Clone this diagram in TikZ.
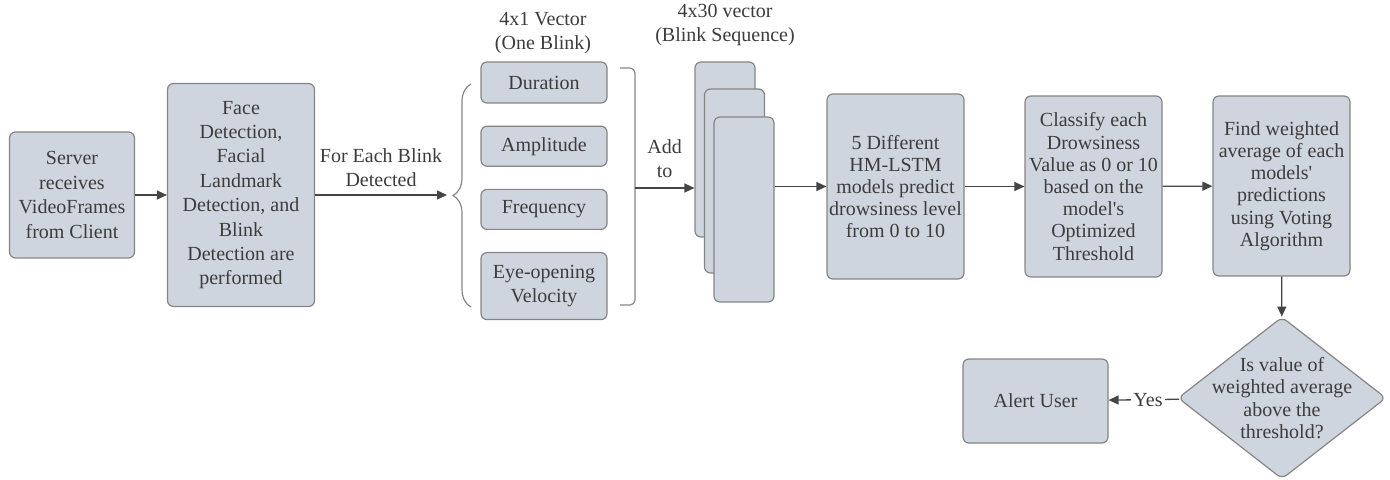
\documentclass[tikz,border=0pt]{standalone}
\usepackage{fontspec}
\setmainfont{Liberation Serif}
\usetikzlibrary{shapes.geometric, arrows.meta, positioning, decorations.pathreplacing}

\definecolor{boxfill}{HTML}{CFD5DE}
\definecolor{boxline}{HTML}{858585}
\definecolor{inktext}{HTML}{3C3C3C}
\definecolor{linkline}{HTML}{454545}

\tikzset{
  box/.style={draw=boxline, fill=boxfill, rounded corners=3pt, line width=0.6pt, text=inktext, align=center, inner sep=1pt, font=\fontsize{10}{11.6}\selectfont},
  tallbox/.style={box, font=\fontsize{10}{12.2}\selectfont},
  stepbox/.style={box, minimum width=68.5pt, font=\fontsize{10}{11.1}\selectfont},
  feature/.style={box, minimum width=63pt, minimum height=20pt},
  card/.style={box, minimum width=30pt},
  decision/.style={draw=boxline, fill=boxfill, diamond, rounded corners=3pt, line width=0.6pt, inner sep=0pt, minimum width=104pt, minimum height=81pt},
  note/.style={text=inktext, align=center, inner sep=1pt, font=\fontsize{10}{12}\selectfont},
  flow/.style={draw=linkline, line width=0.65pt, -{Triangle[length=5pt,width=4.5pt]}},
  bracket/.style={draw=boxline, line width=0.6pt},
}

\begin{document}
\begin{tikzpicture}[x=0.5pt, y=-0.5pt, node distance=11pt]
        \useasboundingbox (0,0) rectangle (1390,480);

        % capture and detection
        \node[tallbox, minimum width=62.5pt, minimum height=63pt] (server) at (72,195) {Server\\receives\\VideoFrames\\from Client};
        \node[tallbox, minimum width=73.5pt, minimum height=111.5pt] (face) at (241,195) {Face\\Detection,\\Facial\\Landmark\\Detection, and\\Blink\\Detection are\\performed};

        % one blink vector
        \node[feature, minimum height=20.5pt] (duration) at (544,82.5) {Duration};
        \node[feature, below=of duration] (amplitude) {Amplitude};
        \node[feature, below=of amplitude] (frequency) {Frequency};
        \node[feature, minimum height=33.5pt, below=of frequency] (velocity) {Eye-opening\\Velocity};
        \node[note] (blinktitle) at (543,33) {4x1 Vector\\(One Blink)};

        \draw[bracket, decorate, decoration={brace, amplitude=9pt}] (471,307) -- (471,84);
        \coordinate (bracetip) at (447,195);
        \draw[bracket, rounded corners=2.5pt] (620,68) -- (635,68) -- (635,305) -- (620,305);
        \coordinate (bracketout) at (635,188);

        % blink sequence
        \node[card, minimum height=87.5pt] (seqA) at (725,149.5) {};
        \node[card, minimum height=92pt] (seqB) at (734.5,181) {};
        \node[card, minimum height=92.5pt] (seqC) at (744,209.5) {};
        \node[note] (seqtitle) at (725,25) {4x30 vector\\(Blink Sequence)};

        % models and voting
        \node[stepbox, minimum height=92.5pt] (models) at (895.5,186.5) {5 Different\\HM-LSTM\\models predict\\drowsiness level\\from 0 to 10};
        \node[stepbox, minimum height=90.5pt] (classify) at (1093.5,186.5) {Classify each\\Drowsiness\\Value as 0 or 10\\based on the\\model\textquotesingle s\\Optimized\\Threshold};
        \node[stepbox, minimum height=90pt] (voting) at (1281.5,186) {Find weighted\\average of each\\models\textquotesingle\\predictions\\using Voting\\Algorithm};
        \node[decision, label={[note, font=\fontsize{10}{11.1}\selectfont]center:Is value of\\weighted average\\above the\\threshold?}] (check) at (1282,398) {};
        \node[box, minimum width=72.5pt, minimum height=42pt] (alert) at (1035.5,401) {Alert User};

        \draw[flow] (server) -- (face);
        \draw[flow] (face) -- node[note, above=3pt] {For Each Blink\\Detected} (bracetip);
        \draw[flow] (bracketout) -- node[note, above=4pt] {Add\\to} (bracketout -| seqA.west);
        \draw[flow] (seqC.east |- models.west) -- (models);
        \draw[flow] (models) -- (classify);
        \draw[flow] (classify) -- (voting);
        \draw[flow] (voting) -- (check);
        \draw[flow] (check) -- node[note, fill=white, pos=0.44, inner sep=1pt] {Yes} (alert);
    \end{tikzpicture}
\end{document}
